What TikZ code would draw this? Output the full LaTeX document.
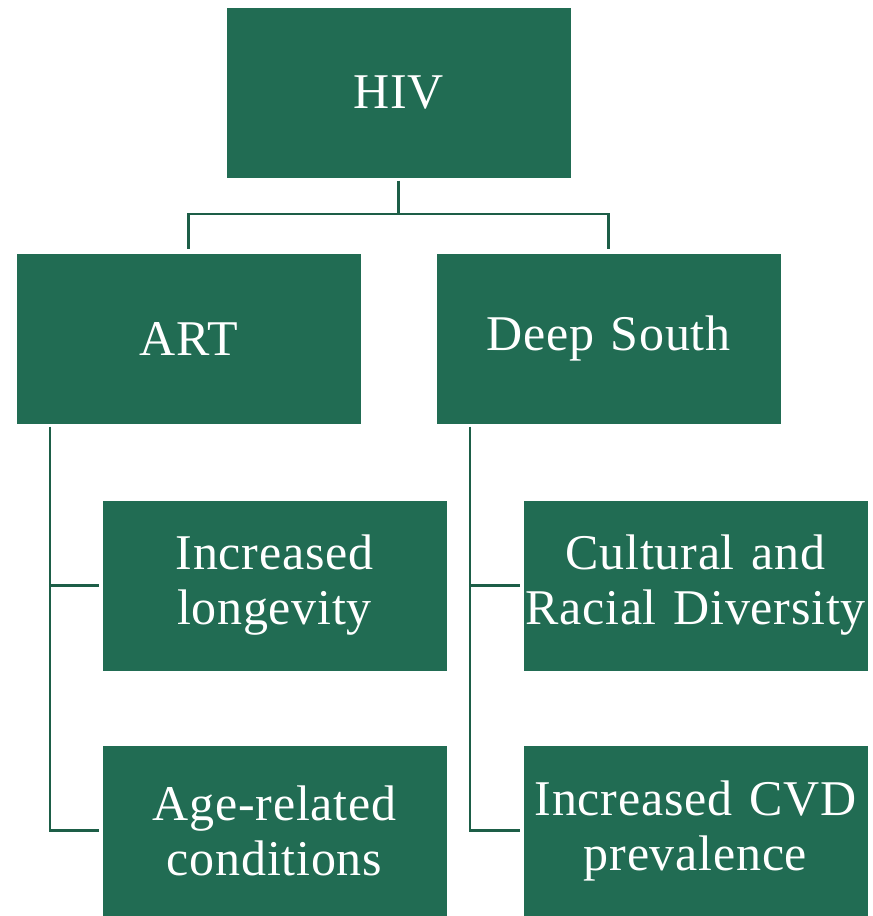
\documentclass[tikz,border=0pt]{standalone}
\usepackage{fontspec}
\setmainfont{Liberation Serif}[LetterSpace=1.5]
\definecolor{boxgreen}{HTML}{216C53}
\definecolor{linegreen}{HTML}{1D5E47}
\begin{document}
\begin{tikzpicture}[x=1pt,y=-1pt,
  box/.style={fill=boxgreen, draw=none, inner sep=0pt,
    minimum width=344pt, minimum height=170pt, text width=344pt,
    text=white, align=center,
    font=\fontsize{50}{55}\selectfont},
  link/.style={draw=linegreen, line width=2.6pt}]
  \useasboundingbox (0,0) rectangle (873,916);
  % tree boxes
  \node[box] (hiv)  at (398.5,92.5)  {HIV};
  \node[box] (art)  at (188.5,338.5) {ART};
  \node[box] (ds)   at (608.5,338.5) {Deep South};
  \node[box] (lon)  at (274.5,585.5) {Increased\\longevity};
  \node[box] (age)  at (274.5,830.5) {Age-related\\conditions};
  \node[box] (cul)  at (695.5,585.5) {Cultural and\\Racial Diversity};
  \node[box] (cvd)  at (695.5,830.5) {Increased CVD\\prevalence};
  % junction points of the connectors
  \coordinate (j) at (398.5,214);
  \coordinate (artx) at (50,0);
  \coordinate (dsx) at (470,0);
  % HIV to its two children
  \draw[link] ([yshift=-3pt]hiv.south) -- (j);
  \draw[link] (j) -| ([yshift=4pt]art.north);
  \draw[link] (j) -| ([yshift=4pt]ds.north);
  % ART branch
  \draw[link] (artx |- art.south) ++(0,3) |- ([xshift=-3pt]age.west);
  \draw[link] (artx |- lon.west) -- ([xshift=-3pt]lon.west);
  % Deep South branch
  \draw[link] (dsx |- ds.south) ++(0,3) |- ([xshift=-3pt]cvd.west);
  \draw[link] (dsx |- cul.west) -- ([xshift=-3pt]cul.west);
\end{tikzpicture}
\end{document}
